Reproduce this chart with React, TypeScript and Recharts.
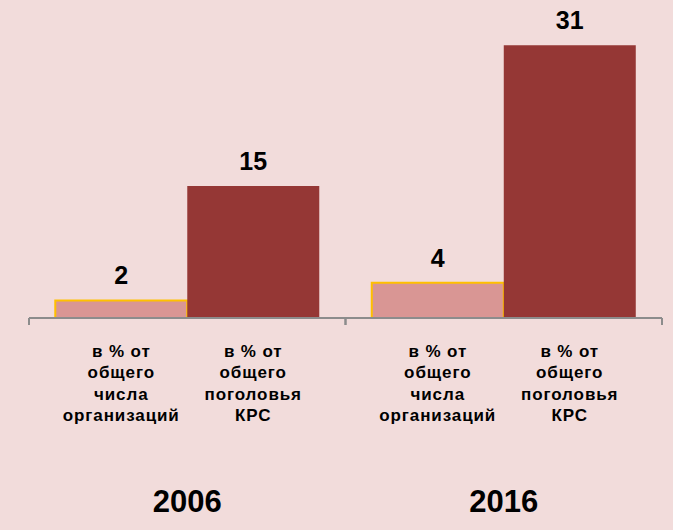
import { BarChart, Bar, XAxis, YAxis, LabelList } from "recharts"

const years = ["2006", "2016"]
const orgShare = [2, 4]
const herdShare = [15, 31]
const orgLabel = ["в % от", "общего", "числа", "организаций"]
const herdLabel = ["в % от", "общего", "поголовья", "КРС"]

const W = 673
const H = 530
const MARGIN = { top: 10, right: 11, bottom: 0, left: 29 }
const AXIS_H = 212
const GAP = 0.083

const BG = "#f2dcdb"
const LIGHT = "#d99694"
const DARK = "#953735"
const AXIS = "#8c8c8c"
const FONT = "'Liberation Sans', Arial, sans-serif"

const data = years.map((year, i) => ({
    year,
    org: orgShare[i],
    herd: herdShare[i],
}))

const plotW = W - MARGIN.left - MARGIN.right
const bandW = plotW / years.length
const barW = (bandW * (1 - 2 * GAP)) / 2

function YearTick(props: any) {
    const { x, y, payload } = props
    const groups = [
        { lines: orgLabel, cx: x - barW / 2 },
        { lines: herdLabel, cx: x + barW / 2 },
    ]
    return (
        <g fontFamily={FONT} fontWeight="bold" fill="#000">
            {[x - bandW / 2, x + bandW / 2].map((ex, i) => (
                <line key={i} x1={ex} x2={ex} y1={y} y2={y + 7} stroke={AXIS} strokeWidth={2} />
            ))}
            {groups.map((g, gi) => (
                <text key={gi} x={g.cx} y={y + 39} textAnchor="middle" fontSize={17} letterSpacing={0.9}>
                    {g.lines.map((line, li) => (
                        <tspan key={li} x={g.cx} dy={li === 0 ? 0 : 21.3}>
                            {line}
                        </tspan>
                    ))}
                </text>
            ))}
            <text x={x} y={y + 194} textAnchor="middle" fontSize={31}>
                {payload.value}
            </text>
        </g>
    )
}

export default function App() {
    return (
        <div style={{ width: W, height: H, background: BG }}>
            <style>{`body{margin:0;background:${BG}}`}</style>
            <BarChart
                width={W}
                height={H}
                data={data}
                margin={MARGIN}
                barCategoryGap={`${GAP * 100}%`}
                barGap={0}
            >
                <YAxis hide domain={[0, 35]} />
                <XAxis
                    dataKey="year"
                    axisLine={{ stroke: AXIS, strokeWidth: 2 }}
                    tickLine={false}
                    tickSize={0}
                    tickMargin={0}
                    height={AXIS_H}
                    interval={0}
                    tick={<YearTick />}
                />
                <Bar dataKey="org" fill={LIGHT} stroke="#ffc000" strokeWidth={2} isAnimationActive={false}>
                    <LabelList
                        dataKey="org"
                        position="top"
                        offset={16}
                        style={{ fontFamily: FONT, fontWeight: "bold", fontSize: 25, fill: "#000" }}
                    />
                </Bar>
                <Bar dataKey="herd" fill={DARK} isAnimationActive={false}>
                    <LabelList
                        dataKey="herd"
                        position="top"
                        offset={16}
                        style={{ fontFamily: FONT, fontWeight: "bold", fontSize: 25, fill: "#000" }}
                    />
                </Bar>
            </BarChart>
        </div>
    )
}
